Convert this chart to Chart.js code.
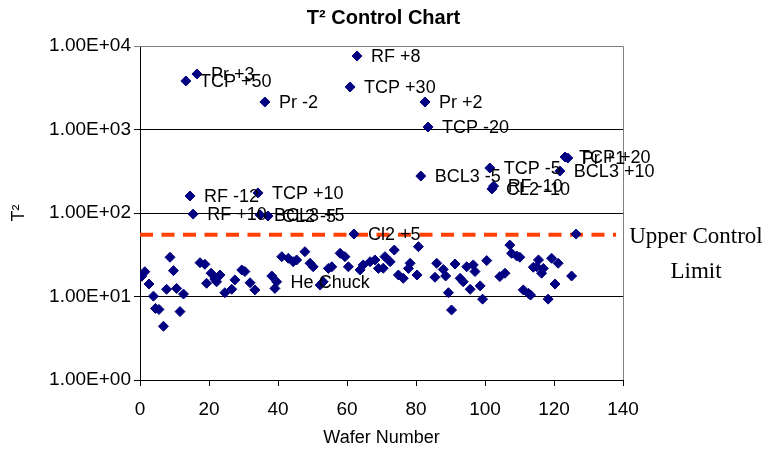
<!DOCTYPE html>
<html>
<head>
<meta charset="utf-8">
<title>T2 Control Chart</title>
<script src="https://cdn.jsdelivr.net/npm/chart.js@4"></script>
<style>
  body { margin: 0; background: #fff; }
  canvas { display: block; }
</style>
</head>
<body>
<canvas id="chart" width="769" height="451"></canvas>
<script>
// Ordinary wafers (no label)
const waferNumbers = [0.5, 1.4, 2.6, 3.9, 4.5, 5.5, 6.8, 7.7, 8.7, 9.7, 10.6, 11.6, 12.6,
  17.4, 18.8, 19.3, 20.6, 21.7, 22.2, 23.2, 24.6, 26.6, 27.5, 29.5, 30.4, 31.9, 33.3,
  38.2, 39.1, 41.1, 43.0, 44.4, 45.4, 47.8, 49.3, 50.2, 52.2, 53.1, 54.6, 55.6, 58.0, 59.4, 60.4,
  63.8, 64.7, 66.7, 68.1, 69.1, 70.5, 71.0, 72.5, 73.7, 74.9, 76.3, 77.8, 78.3, 80.3, 80.7,
  85.5, 86.0, 87.9, 88.6, 89.4, 90.3, 91.3, 92.8, 93.7, 94.7, 95.7, 96.6, 97.1, 98.6, 99.3, 100.5,
  104.3, 105.8, 107.2, 107.7, 109.2, 110.1, 111.1, 112.6, 113.2, 114.0, 115.0, 115.5, 116.4, 116.9,
  118.3, 119.3, 120.3, 121.2, 125.1, 126.4];
const t2Values = [17.5, 19.8, 14.1, 10.1, 7.2, 7.0, 4.4, 12.2, 29.5, 20.4, 12.5, 6.6, 10.7,
  25.4, 24.3, 14.4, 19, 16.1, 15.0, 18.1, 11.1, 12.2, 15.8, 20.8, 19.9, 14.6, 12.0,
  17.6, 12.5, 30, 28.7, 26.1, 27.4, 34.4, 25, 22.7, 13.7, 15, 21.7, 22.7, 32.9, 30, 22.7,
  20.8, 23.9, 26.1, 27.4, 21.7, 21.8, 30, 26.1, 36, 18.1, 16.5, 21.7, 25, 18.1, 39.5,
  17, 25, 21.1, 17.6, 11.1, 6.9, 24.5, 16.5, 15, 22.7, 12.2, 23.9, 19.9, 13.4, 9.3, 26.9,
  17.3, 19, 41.3, 32.9, 30.6, 29.5, 12.0, 10.9, 10.4, 22.4, 22.7, 27.4, 19.0, 21.7,
  9.3, 28.7, 14.1, 25, 17.6, 56];

// Labelled wafers
const labelWafers = [13.3, 14.5, 15.4, 16.5, 34.2, 34.8, 36.2, 37.1, 39.6, 60.9, 62.0, 62.9,
  81.4, 82.6, 83.5, 101.4, 102.0, 102.5, 121.7, 123.2, 124.0];
const labelValues = [3810, 160, 97, 4620, 174, 95, 2135, 92, 15, 3230, 56, 7590,
  277, 2135, 1070, 346, 194, 210, 318, 469, 455];
const labelNames = ['TCP +50', 'RF -12', 'RF +10', 'Pr +3', 'TCP +10', 'BCL3 +5', 'Pr -2', 'CL2 -5',
  'He Chuck', 'TCP +30', 'Cl2 +5', 'RF +8', 'BCL3 -5', 'Pr +2', 'TCP -20', 'TCP -5', 'CL2 -10',
  'RF -10', 'BCL3 +10', 'TCP +20', 'Pr +1'];

const upperControlLimit = 55;
const yTickValues = [1, 10, 100, 1000, 10000];
const xTickValues = [0, 20, 40, 60, 80, 100, 120, 140];

const sans = '"Liberation Sans", Arial, sans-serif';

function toPoints(xs, ys) {
  return xs.map((x, i) => ({ x: x, y: ys[i] }));
}

function sciLabel(v) {
  const exp = Math.round(Math.log10(v));
  const sign = exp < 0 ? '-' : '+';
  return (v / Math.pow(10, exp)).toFixed(2) + 'E' + sign + String(Math.abs(exp)).padStart(2, '0');
}

// title, labels next to points, grey frame and the limit caption
const annotate = {
  id: 'annotate',
  afterDatasetsDraw(chart) {
    const ctx = chart.ctx;
    const area = chart.chartArea;
    ctx.save();
    ctx.strokeStyle = '#808080';
    ctx.lineWidth = 1;
    ctx.beginPath();
    ctx.moveTo(area.left, area.top + 0.5);
    ctx.lineTo(area.right + 0.5, area.top + 0.5);
    ctx.lineTo(area.right + 0.5, area.bottom);
    ctx.stroke();

    ctx.fillStyle = '#000';
    ctx.textBaseline = 'middle';
    ctx.textAlign = 'center';
    ctx.font = 'bold 20px ' + sans;
    ctx.fillText('T\u00B2 Control Chart', (area.left + area.right) / 2 + 2, 18);

    ctx.textAlign = 'left';
    ctx.font = '18px ' + sans;
    chart.getDatasetMeta(1).data.forEach((pt, i) => {
      ctx.fillText(labelNames[i], pt.x + 14, pt.y + 1);
    });

    const yLimit = chart.scales.y.getPixelForValue(upperControlLimit);
    const cx = area.right + (chart.width - area.right) / 2;
    ctx.font = '23px "Liberation Serif", "Times New Roman", serif';
    ctx.textAlign = 'center';
    ctx.fillText('Upper Control', cx, yLimit + 2);
    ctx.fillText('Limit', cx, yLimit + 37);
    ctx.restore();
  }
};

const markerStyle = {
  pointStyle: 'rectRot',
  pointRadius: 5,
  pointBackgroundColor: '#000080',
  pointBorderColor: '#000080',
  pointBorderWidth: 1,
  showLine: false
};

new Chart(document.getElementById('chart'), {
  type: 'scatter',
  data: {
    datasets: [
      Object.assign({ label: 'T2', data: toPoints(waferNumbers, t2Values) }, markerStyle),
      Object.assign({ label: 'Events', data: toPoints(labelWafers, labelValues) }, markerStyle),
      {
        type: 'line',
        label: 'UCL',
        data: [{ x: 0, y: upperControlLimit }, { x: 138, y: upperControlLimit }],
        borderColor: '#FF4000',
        borderWidth: 4,
        borderDash: [13, 8.5],
        pointRadius: 0,
        fill: false
      }
    ]
  },
  options: {
    responsive: false,
    animation: false,
    devicePixelRatio: 1,
    layout: { padding: { left: 0, right: 146, top: 46, bottom: 0 } },
    plugins: {
      legend: { display: false },
      tooltip: { enabled: false },
      title: { display: false }
    },
    scales: {
      x: {
        type: 'linear',
        min: 0,
        max: 140,
        afterBuildTicks: s => { s.ticks = xTickValues.map(v => ({ value: v })); },
        afterFit: s => { s.height = 71; },
        grid: { drawOnChartArea: false, color: '#000', tickLength: 6 },
        border: { color: '#000', width: 1 },
        ticks: { color: '#000', font: { family: sans, size: 19 }, padding: 12, maxRotation: 0 },
        title: {
          display: true,
          text: 'Wafer Number',
          color: '#000',
          font: { family: sans, size: 18 },
          padding: { top: 0, bottom: 2 }
        }
      },
      y: {
        type: 'logarithmic',
        min: 1,
        max: 10000,
        afterBuildTicks: s => { s.ticks = yTickValues.map(v => ({ value: v })); },
        afterFit: s => { s.width = 140; },
        grid: {
          color: c => (c.tick && c.tick.value === 10000 ? '#808080' : '#000'),
          tickLength: 6
        },
        border: { color: '#000', width: 1 },
        ticks: {
          color: '#000',
          font: { family: sans, size: 19 },
          padding: 3,
          callback: v => sciLabel(v)
        },
        title: {
          display: true,
          text: 'T\u00B2',
          color: '#000',
          font: { family: sans, size: 18 },
          padding: { top: 8, bottom: 0 }
        }
      }
    }
  },
  plugins: [annotate]
});
</script>
</body>
</html>
